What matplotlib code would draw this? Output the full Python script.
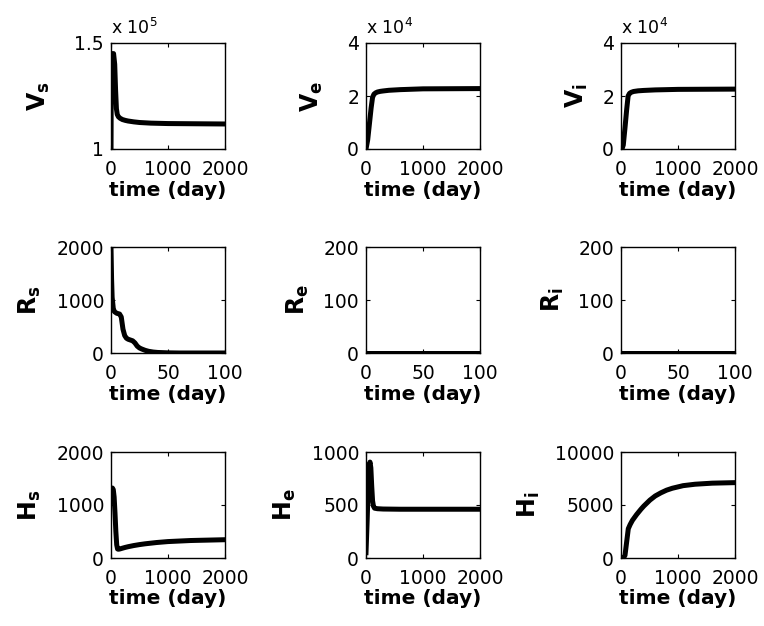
import numpy as np
import matplotlib.pyplot as plt

plt.rcParams['font.family'] = 'DejaVu Sans'
plt.rcParams['mathtext.fontset'] = 'dejavusans'

# --- data ---
t_V = [0, 5, 20, 45, 65, 80, 95, 110, 130, 160, 200, 250, 300, 400, 500, 700,
       1000, 1500, 2000]
Vs = [95000, 138000, 145000, 145000, 140000, 128000, 119000, 116300, 115200,
      114500, 113900, 113500, 113200, 112800, 112500, 112200, 112000, 111900,
      111800]

t_Ve = [0, 30, 60, 90, 115, 140, 170, 200, 250, 300, 400, 600, 1000, 2000]
Ve = [0, 3500, 9500, 15500, 19500, 20700, 21200, 21500, 21750, 21900, 22150,
      22400, 22700, 22800]

t_Vi = [0, 20, 40, 70, 100, 125, 150, 180, 220, 300, 400, 600, 1000, 2000]
Vi = [0, 200, 1500, 8000, 15000, 20000, 21000, 21400, 21700, 21950, 22100,
      22300, 22500, 22600]

t_R = [0, 0.5, 1, 2, 3, 5, 7.5, 9, 10.5, 12, 13.5, 15, 19, 21, 23, 25, 27, 30,
       33, 37, 41, 50, 60, 100]
Rs = [2000, 1400, 1050, 840, 780, 750, 735, 680, 450, 330, 280, 260, 230, 190,
      130, 95, 75, 50, 32, 18, 10, 3, 0, 0]
t_R0 = [0, 50, 100]
Re = [0, 0, 0]
Ri = [0, 0, 0]

t_Hs = [0, 10, 25, 40, 55, 70, 85, 100, 115, 130, 160, 200, 250, 300, 400, 500,
        600, 800, 1000, 1400, 2000]
Hs = [1250, 1310, 1320, 1290, 1150, 850, 500, 250, 170, 165, 172, 185, 200, 213,
      235, 253, 268, 292, 310, 330, 345]

t_He = [0, 20, 40, 55, 70, 85, 100, 115, 130, 150, 200, 300, 600, 1000, 2000]
He = [50, 350, 700, 870, 905, 850, 680, 540, 490, 470, 465, 462, 460, 460, 460]

t_Hi = [0, 45, 70, 100, 128, 160, 200, 274, 350, 400, 507, 600, 700, 800, 900,
        1090, 1300, 1600, 2000]
Hi = [0, 30, 250, 1550, 2760, 3150, 3550, 4100, 4600, 4900, 5460, 5850, 6150,
      6400, 6580, 6825, 6960, 7060, 7110]

panels = [
    (t_V, Vs, 'V_s', (1e5, 1.5e5), [1e5, 1.5e5], ['1', '1.5'], 5, 2000),
    (t_Ve, Ve, 'V_e', (0, 4e4), [0, 2e4, 4e4], ['0', '2', '4'], 4, 2000),
    (t_Vi, Vi, 'V_i', (0, 4e4), [0, 2e4, 4e4], ['0', '2', '4'], 4, 2000),
    (t_R, Rs, 'R_s', (0, 2000), [0, 1000, 2000], None, None, 100),
    (t_R0, Re, 'R_e', (0, 200), [0, 100, 200], None, None, 100),
    (t_R0, Ri, 'R_i', (0, 200), [0, 100, 200], None, None, 100),
    (t_Hs, Hs, 'H_s', (0, 2000), [0, 1000, 2000], None, None, 2000),
    (t_He, He, 'H_e', (0, 1000), [0, 500, 1000], None, None, 2000),
    (t_Hi, Hi, 'H_i', (0, 10000), [0, 5000, 10000], None, None, 2000),
]
label_pads = [16, 16, 9, 10, 9, 9, 10, 10, 9]

W, H = 764, 626
fig = plt.figure(figsize=(W / 100, H / 100), dpi=100)
col_left = [111, 366, 621]
row_top = [43, 247, 452]
aw, ah = 114, 106

for k, (t, y, lab, ylim, yt, ytl, expo, xmax) in enumerate(panels):
    r, c = divmod(k, 3)
    ax = fig.add_axes([col_left[c] / W, 1 - (row_top[r] + ah) / H, aw / W, ah / H])
    ax.plot(t, y, color='black', lw=3.6, solid_joinstyle='round')
    ax.set_xlim(0, xmax)
    ax.set_ylim(*ylim)
    ax.set_xticks([0, xmax / 2, xmax])
    ax.set_xticklabels([str(int(v)) for v in [0, xmax / 2, xmax]])
    ax.set_yticks(yt)
    if ytl is not None:
        ax.set_yticklabels(ytl)
    else:
        ax.set_yticklabels([str(int(v)) for v in yt])
    ax.tick_params(direction='in', top=True, right=True, length=3, width=0.8,
                   labelsize=13.5)
    ax.tick_params(axis='x', pad=8)
    ax.tick_params(axis='y', pad=5)
    for s in ax.spines.values():
        s.set_linewidth(1.0)
    ax.set_xlabel('time (day)', fontsize=14.5, fontweight='bold', labelpad=1)
    ax.set_ylabel(r'$\mathbf{' + lab + '}$', fontsize=17, labelpad=label_pads[k])
    if expo is not None:
        ax.text(0, 1.05, r'x 10$^{%d}$' % expo, transform=ax.transAxes,
                fontsize=12.5, ha='left', va='bottom')

fig.savefig('out.png', dpi=100)
